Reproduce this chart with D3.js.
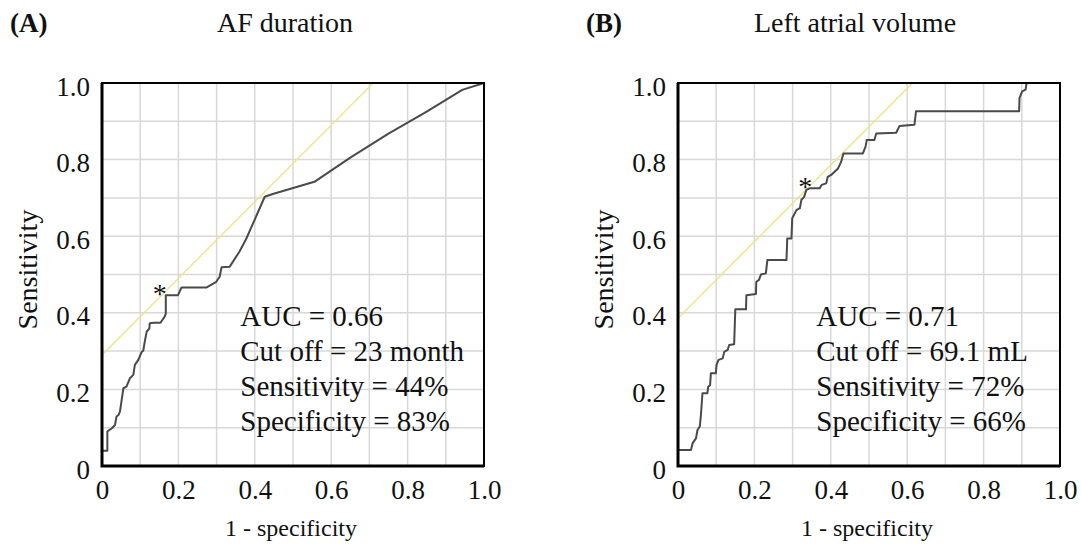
<!DOCTYPE html>
<meta charset="utf-8">
<style>
body { margin: 0; background: #fff; }
text { font-family: "Liberation Serif", "Times New Roman", serif; fill: #111; }
</style>
<svg width="1081" height="549"></svg>
<script src="https://d3js.org/d3.v7.min.js"></script>
<script>
// ROC curve A: AF duration (1 - specificity, sensitivity)
var afX = [0, 0, 0.005, 0.014, 0.014, 0.025, 0.034, 0.038, 0.043, 0.047, 0.056, 0.064, 0.073, 0.082, 0.086, 0.095, 0.104, 0.108, 0.112, 0.117, 0.124, 0.125, 0.136, 0.153, 0.164, 0.167, 0.167, 0.199, 0.208, 0.273, 0.299, 0.308, 0.313, 0.334, 0.36, 0.378, 0.426, 0.447, 0.556, 0.65, 0.75, 0.85, 0.943, 1];
var afY = [0, 0.04, 0.04, 0.04, 0.09, 0.098, 0.107, 0.129, 0.133, 0.142, 0.203, 0.207, 0.229, 0.238, 0.264, 0.277, 0.298, 0.301, 0.325, 0.351, 0.359, 0.373, 0.374, 0.374, 0.39, 0.398, 0.446, 0.446, 0.466, 0.466, 0.481, 0.494, 0.519, 0.52, 0.56, 0.594, 0.703, 0.71, 0.742, 0.805, 0.868, 0.925, 0.982, 1];
// ROC curve B: left atrial volume
var laX = [0, 0, 0.034, 0.038, 0.047, 0.051, 0.057, 0.06, 0.064, 0.077, 0.079, 0.084, 0.086, 0.099, 0.101, 0.106, 0.117, 0.121, 0.13, 0.134, 0.147, 0.15, 0.178, 0.179, 0.204, 0.205, 0.212, 0.217, 0.23, 0.234, 0.284, 0.286, 0.297, 0.299, 0.31, 0.319, 0.323, 0.33, 0.336, 0.345, 0.371, 0.376, 0.388, 0.392, 0.401, 0.419, 0.427, 0.433, 0.484, 0.491, 0.494, 0.514, 0.519, 0.571, 0.58, 0.619, 0.623, 0.893, 0.894, 0.901, 0.91, 0.912, 0.915];
var laY = [0, 0.042, 0.042, 0.059, 0.072, 0.094, 0.103, 0.133, 0.19, 0.19, 0.207, 0.211, 0.242, 0.242, 0.264, 0.277, 0.281, 0.298, 0.303, 0.316, 0.318, 0.409, 0.409, 0.446, 0.449, 0.481, 0.486, 0.5, 0.503, 0.538, 0.538, 0.594, 0.594, 0.647, 0.668, 0.673, 0.695, 0.702, 0.721, 0.725, 0.725, 0.734, 0.738, 0.755, 0.76, 0.777, 0.794, 0.816, 0.816, 0.834, 0.851, 0.851, 0.868, 0.87, 0.888, 0.891, 0.926, 0.926, 0.961, 0.978, 0.983, 0.997, 1];
// optimal cut-off points and tangent line intercepts
var cutA = [0.167, 0.446];
var cutB = [0.336, 0.721];
var interceptA = 0.29;
var interceptB = 0.386;
var panelLetters = ["(A)", "(B)"];
var panelTitles = ["AF duration", "Left atrial volume"];
var statsA = ["AUC = 0.66", "Cut off = 23 month", "Sensitivity = 44%", "Specificity = 83%"];
var statsB = ["AUC = 0.71", "Cut off = 69.1 mL", "Sensitivity = 72%", "Specificity = 66%"];
var tickVals = [0, 0.2, 0.4, 0.6, 0.8, 1.0];
var gridVals = d3.range(0, 11).map(function(d) { return d / 10; });

var svg = d3.select("svg");
var plotTop = 83, plotBottom = 466, plotW = 382;
var lefts = [102, 678];
var titleCenters = [285, 855];
var starShift = [[-6, 8], [-1, 6]];

function drawPanel(i, xs, ys, cut, intercept, stats) {
	var left = lefts[i];
	var x = d3.scaleLinear().domain([0, 1]).range([left, left + plotW]);
	var y = d3.scaleLinear().domain([0, 1]).range([plotBottom, plotTop]);
	var g = svg.append("g");

	// grid
	g.selectAll(".gx").data(gridVals).enter().append("line")
		.attr("x1", function(d) { return x(d); })
		.attr("x2", function(d) { return x(d); })
		.attr("y1", plotTop).attr("y2", plotBottom)
		.style("stroke", "#d8d8d8").style("stroke-width", 1.5);
	g.selectAll(".gy").data(gridVals).enter().append("line")
		.attr("y1", function(d) { return y(d); })
		.attr("y2", function(d) { return y(d); })
		.attr("x1", left).attr("x2", left + plotW)
		.style("stroke", "#d8d8d8").style("stroke-width", 1.5);

	var clipId = "clip" + i;
	svg.append("clipPath").attr("id", clipId).append("rect")
		.attr("x", left).attr("y", plotTop).attr("width", plotW).attr("height", plotBottom - plotTop);

	// tangent line (slope 1)
	g.append("line")
		.attr("clip-path", "url(#" + clipId + ")")
		.attr("x1", x(0)).attr("y1", y(intercept))
		.attr("x2", x(1)).attr("y2", y(1 + intercept))
		.style("stroke", "#efe38a").style("stroke-width", 1.4);

	// ROC curve
	var line = d3.line()
		.x(function(d) { return x(d[0]); })
		.y(function(d) { return y(d[1]); });
	g.append("path")
		.datum(d3.zip(xs, ys))
		.attr("d", line)
		.style("fill", "none")
		.style("stroke", "#4a4a4a")
		.style("stroke-width", 2)
		.style("stroke-linejoin", "round");

	// cut-off marker
	g.append("text")
		.attr("x", x(cut[0]))
		.attr("y", y(cut[1]))
		.attr("dx", starShift[i][0])
		.attr("dy", starShift[i][1])
		.style("text-anchor", "middle")
		.style("font-size", "28px")
		.text("*");

	// frame
	g.append("rect")
		.attr("x", left).attr("y", plotTop)
		.attr("width", plotW).attr("height", plotBottom - plotTop)
		.style("fill", "none").style("stroke", "#000").style("stroke-width", 2);
	g.append("path")
		.attr("d", "M" + left + "," + plotTop + "V" + plotBottom + "H" + (left + plotW))
		.style("fill", "none").style("stroke", "#000").style("stroke-width", 3);

	// axes
	var fmt = function(d) { return d === 0 ? "0" : d3.format(".1f")(d); };
	var xAxis = g.append("g")
		.attr("transform", "translate(0," + (plotBottom + 11) + ")")
		.call(d3.axisBottom(x).tickValues(tickVals).tickFormat(fmt).tickSize(0));
	var yAxis = g.append("g")
		.attr("transform", "translate(" + (left - 9) + ",0)")
		.call(d3.axisLeft(y).tickValues(tickVals).tickFormat(fmt).tickSize(0));
	[xAxis, yAxis].forEach(function(a) {
		a.select(".domain").remove();
		a.selectAll("text")
			.style("font-family", "'Liberation Serif', serif")
			.style("font-size", "27px")
			.style("fill", "#111");
	});
	yAxis.selectAll("text").attr("dy", "0.45em");

	g.append("text")
		.attr("x", left + plotW / 2 - 2)
		.attr("y", 536)
		.style("text-anchor", "middle")
		.style("font-size", "24px")
		.text("1 - specificity");
	g.append("text")
		.attr("transform", "translate(" + (left - 65) + "," + ((plotTop + plotBottom) / 2 - 5) + ") rotate(-90)")
		.style("text-anchor", "middle")
		.style("font-size", "28px")
		.text("Sensitivity");

	// title and panel letter
	g.append("text")
		.attr("x", titleCenters[i])
		.attr("y", 32)
		.style("text-anchor", "middle")
		.style("font-size", "28px")
		.text(panelTitles[i]);
	g.append("text")
		.attr("x", left - 92)
		.attr("y", 32)
		.style("font-size", "27px")
		.style("font-weight", "bold")
		.text(panelLetters[i]);

	// stats block
	g.selectAll(".stat").data(stats).enter().append("text")
		.attr("x", x(0.362))
		.attr("y", function(d, j) { return 326 + j * 35; })
		.style("font-size", "29px")
		.text(function(d) { return d; });
}

drawPanel(0, afX, afY, cutA, interceptA, statsA);
drawPanel(1, laX, laY, cutB, interceptB, statsB);
</script>
